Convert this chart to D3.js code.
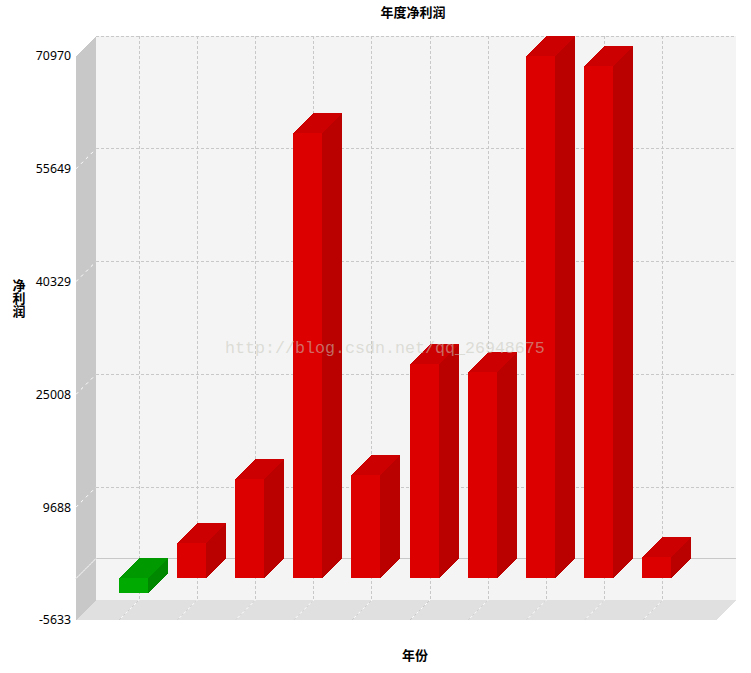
<!DOCTYPE html>
<html><head><meta charset="utf-8">
<script src="https://cdnjs.cloudflare.com/ajax/libs/d3/7.8.5/d3.min.js"></script>
<style>html,body{margin:0;padding:0;background:#fff}svg{display:block}</style>
</head><body><svg id="c" width="751" height="673"></svg>
<script>
const chartTitle = "年度净利润";
const xTitle = "年份";
const yTitle = "净利润";
const watermark = "http://blog.csdn.net/qq_26948675";
const categories = [1,2,3,4,5,6,7,8,9,10];
const values = [-2040,4820,13500,60500,14050,29130,28050,70970,69600,2900];
const yTicks = [-5633,9688,25008,40329,55649,70970];

const depth = 20;
const svg = d3.select("#c");
const x0 = 76, x1 = 716;
const x = d3.scaleBand().domain(categories).range([x0-0.5,x1-0.5]).paddingInner(0.5).paddingOuter(0.75);
const y = d3.scaleLinear().domain([-5633,70970]).range([620,56]);
const line = d3.line();
const GRID = "#c8c8c8";
const poly = (g, pts, fill) => g.append("path").attr("d", line(pts)+"Z").attr("fill", fill).attr("shape-rendering","crispEdges");

const [yB,yT] = y.range();
const walls = svg.append("g");
poly(walls, [[x0+depth,yT-depth],[x1+depth,yT-depth],[x1+depth,yB-depth],[x0+depth,yB-depth]], "#f4f4f4");
poly(walls, [[x0,yT],[x0+depth,yT-depth],[x0+depth,yB-depth],[x0,yB]], "#c8c8c8");
poly(walls, [[x0,yB],[x0+depth,yB-depth],[x1+depth,yB-depth],[x1,yB]], "#e0e0e0");

const grid = svg.append("g").attr("fill","none");
const px = v => Math.floor(v)+0.5;
function gl(a,b,stroke,dash){
  const l = grid.append("line").attr("x1",a[0]).attr("y1",a[1]).attr("x2",b[0]).attr("y2",b[1]).attr("stroke",stroke).attr("stroke-width",1);
  if(dash) l.attr("stroke-dasharray",dash);
}
yTicks.filter(t=>t!==-5633).forEach(t=>{
  const v = px(y(t)-depth);
  gl([x0+depth,v],[x1+depth,v],GRID,"3 2");
  gl([x0,y(t)],[x0+depth,y(t)-depth],"#fff","3 4");
});
categories.forEach(c=>{
  const u = px(x(c)+depth);
  gl([u,yT-depth],[u,yB-depth],GRID,"3 2");
  gl([x(c),yB],[x(c)+depth,yB-depth],"#fff");
  gl([x(c),yB],[x(c)+depth,yB-depth],GRID,"3 3");
});
const z = y(0);
gl([x0+depth,px(z-depth)],[x1+depth,px(z-depth)],GRID);
gl([x0,z],[x0+depth,z-depth],"#fff");
gl([x0,z],[x0+depth,z-depth],GRID,"1 2");

const bars = svg.append("g");
categories.forEach((c,i)=>{
  const v = values[i], pos = v>=0;
  const L = Math.floor(x(c)), R = L+Math.round(x.bandwidth());
  const t = Math.floor(y(Math.max(v,0))), b = Math.floor(y(Math.min(v,0)));
  const front = pos?"#dd0000":"#00aa00", side = pos?"#bb0000":"#008800", top = pos?"#cc0000":"#009900";
  poly(bars, [[L,t],[L+depth,t-depth],[R+depth,t-depth],[R,t]], top);
  poly(bars, [[R,t],[R+depth,t-depth],[R+depth,b-depth],[R,b]], side);
  poly(bars, [[L,t],[R,t],[R,b],[L,b]], front);
});

const ax = svg.append("g").attr("transform",`translate(${x0-5},0)`)
  .call(d3.axisLeft(y).tickValues(yTicks).tickFormat(d=>String(d)).tickSize(0).tickPadding(0));
ax.select(".domain").remove();
ax.selectAll("text").attr("font-family","'Noto Sans',sans-serif").attr("font-size",12.3).attr("fill","#000");

const cjk = "'Noto Sans CJK SC',sans-serif";
svg.append("text").attr("x",413).attr("y",17).attr("text-anchor","middle").attr("font-family",cjk)
  .attr("font-weight","bold").attr("font-size",13).text(chartTitle);
svg.append("text").attr("x",415).attr("y",660).attr("text-anchor","middle").attr("font-family",cjk)
  .attr("font-weight","bold").attr("font-size",13).text(xTitle);
svg.append("text").attr("x",19).attr("y",279).attr("font-family",cjk)
  .attr("font-weight","bold").attr("font-size",13)
  .style("writing-mode","vertical-rl").style("text-orientation","upright").text(yTitle);

svg.append("text").attr("x",225).attr("y",353).attr("font-family","'Liberation Mono',monospace")
  .attr("font-size",16.67).attr("fill","#c8c8bc").attr("fill-opacity",0.55).text(watermark);
</script></body></html>
